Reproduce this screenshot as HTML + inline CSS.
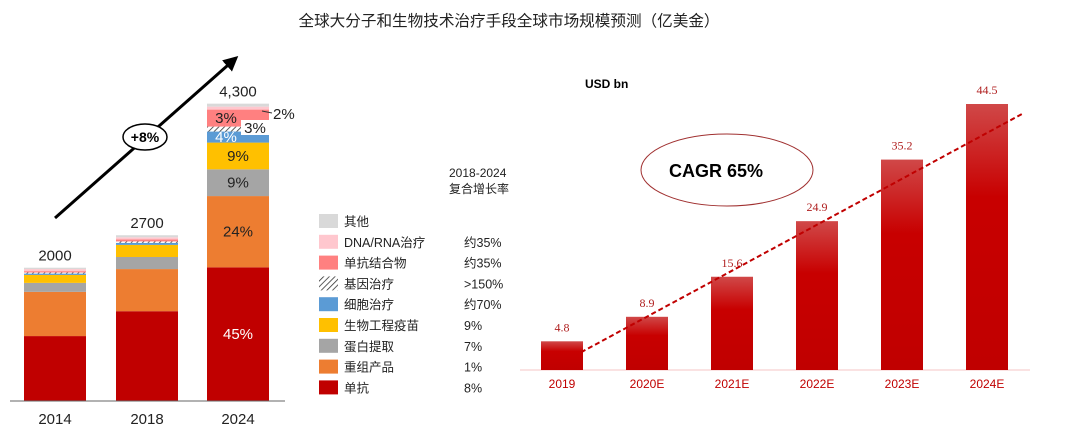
<!DOCTYPE html>
<html><head><meta charset="utf-8"><style>
body{margin:0;background:#fff;width:1080px;height:435px;overflow:hidden}
svg text{font-family:"Liberation Sans","Noto Sans CJK SC",sans-serif}
svg text.serif{font-family:"Liberation Serif",serif}
</style></head><body>
<svg width="1080" height="435" viewBox="0 0 1080 435" xmlns="http://www.w3.org/2000/svg">
<defs>
<pattern id="hatch" width="4" height="4" patternUnits="userSpaceOnUse" patternTransform="rotate(45)"><rect width="4" height="4" fill="#fff"/><line x1="0" y1="0" x2="0" y2="4" stroke="#333" stroke-width="1.6"/></pattern>
<linearGradient id="rg" x1="0" y1="0" x2="0" y2="1"><stop offset="0" stop-color="#d04848"/><stop offset="0.35" stop-color="#c80000"/><stop offset="1" stop-color="#c00000"/></linearGradient>
<marker id="ah" markerWidth="5" markerHeight="5" refX="4" refY="2.5" orient="auto"><path d="M0,0 L5,2.5 L0,5 z" fill="#000"/></marker>
</defs>
<text x="509" y="26" text-anchor="middle" font-size="15.6" fill="#222">全球大分子和生物技术治疗手段全球市场规模预测（亿美金）</text>
<g id="left"></g>
<g id="legend"></g>
<g id="right"></g>
</svg>
<script>
const NS="http://www.w3.org/2000/svg";
function mk(p,t,a){const e=document.createElementNS(NS,t);for(const k in a)e.setAttribute(k,a[k]);p.appendChild(e);return e;}
// Left stacked chart data
const leftYears=["2014","2018","2024"];
const leftTotals=["2000","2700","4,300"];
const segNames=["单抗","重组产品","蛋白提取","生物工程疫苗","细胞治疗","基因治疗","单抗结合物","DNA/RNA治疗","其他"];
const segColors=["#c00000","#ed7d31","#a5a5a5","#ffc000","#5b9bd5","url(#hatch)","#ff8080","#ffc7ce","#d9d9d9"];
const seg2014=[940,640,130,115,20,15,20,30,20];
const seg2018=[1300,610,175,175,30,20,30,30,30];
const seg2024=[1935,1032,387,387,160,72,246,43,43];
const seg2024Labels=["45%","24%","9%","9%","4%","","3%","",""];
const growth=["约35%","约35%",">150%","约70%","9%","7%","1%","8%"];
const L=document.getElementById('left');
const base=401,scale=297/4300,barX=[24,116,207],barW=62;
const leftY=v=>base-v*scale;
[seg2014,seg2018,seg2024].forEach((segs,i)=>{
  let acc=0;
  segs.forEach((v,j)=>{
    const r=mk(L,'rect',{x:barX[i],y:leftY(acc+v),width:barW,height:v*scale,fill:segColors[j]});
    
    
    if(i===2&&seg2024Labels[j]){
      const lx=(j===4||j===6)?barX[i]+19:barX[i]+31;
      const t=mk(L,'text',{x:lx,y:leftY(acc+v/2)+5,'text-anchor':'middle','font-size':15,fill:j===0||j===4?'#fff':'#222'});
      t.textContent=seg2024Labels[j];
      
      
    }
    acc+=v;
  });
  const tt=mk(L,'text',{x:barX[i]+31,y:leftY(acc)-7,'text-anchor':'middle','font-size':15,fill:'#222'});
  tt.textContent=leftTotals[i];
  
  
  const xl=mk(L,'text',{x:barX[i]+31,y:424,'text-anchor':'middle','font-size':15,fill:'#222'});
  xl.textContent=leftYears[i];
  
  
});
mk(L,'line',{x1:10,y1:401,x2:285,y2:401,stroke:'#666','stroke-width':1});
const sl=mk(L,'text',{x:273,y:119,'font-size':15,fill:'#222'});sl.textContent='2%';
mk(L,'line',{x1:262,y1:111,x2:272,y2:113,stroke:'#333'});
mk(L,'rect',{x:241,y:120,width:28,height:15,fill:'#fff'});
const hl=mk(L,'text',{x:255,y:133,'text-anchor':'middle','font-size':15,fill:'#222'});hl.textContent='3%';
mk(L,'line',{x1:55,y1:218,x2:236,y2:58,stroke:'#000','stroke-width':3,'marker-end':'url(#ah)'});
mk(L,'ellipse',{cx:145,cy:137,rx:22,ry:13,fill:'#fff',stroke:'#000','stroke-width':1.5});
const gp=mk(L,'text',{x:145,y:142,'text-anchor':'middle','font-size':14,'font-weight':'bold',fill:'#000'});gp.textContent='+8%';
// Legend
const G=document.getElementById('legend');
const h1=mk(G,'text',{x:449,y:177,'font-size':12,fill:'#222'});h1.textContent='2018-2024';
const h2=mk(G,'text',{x:449,y:193,'font-size':12,fill:'#222'});h2.textContent='复合增长率';
for(let k=0;k<9;k++){
  const j=8-k, cy=221+k*20.8;
  const sw=mk(G,'rect',{x:319,y:cy-7,width:19,height:14,fill:segColors[j]});
  
  
  const t=mk(G,'text',{x:344,y:cy+5,'font-size':12.5,fill:'#222'});t.textContent=segNames[j];
  
  
  if(k>0){const g=mk(G,'text',{x:464,y:cy+5,'font-size':12.5,fill:'#222'});g.textContent=growth[k-1];}
}
// Right chart data
const rCats=["2019","2020E","2021E","2022E","2023E","2024E"];
const rVals=[4.8,8.9,15.6,24.9,35.2,44.5];
const rLabels=["4.8","8.9","15.6","24.9","35.2","44.5"];
const R=document.getElementById('right');
const rBase=370,rScale=266/44.5,x0=562,step=85,bw=42;
const rx=i=>x0+i*step, ry=v=>rBase-v*rScale;
const us=mk(R,'text',{x:585,y:88,'font-size':12,'font-weight':'bold',fill:'#000'});us.textContent='USD bn';
mk(R,'line',{x1:520,y1:370,x2:1030,y2:370,stroke:'#f4c6c6','stroke-width':1});
rVals.forEach((v,i)=>{
  const r=mk(R,'rect',{x:rx(i)-bw/2,y:ry(v),width:bw,height:v*rScale,fill:'url(#rg)'});
  
  
  const t=mk(R,'text',{x:rx(i),y:ry(v)-10,'text-anchor':'middle','font-size':12,fill:'#b02020','class':'serif'});
  t.textContent=rLabels[i];
  
  
  const c=mk(R,'text',{x:rx(i),y:388,'text-anchor':'middle','font-size':12,fill:'#c00000'});
  c.textContent=rCats[i];
  
  
});
mk(R,'line',{x1:rx(0)+19,y1:ry(rVals[0])+11,x2:rx(5)+35,y2:ry(rVals[5])+10,stroke:'#c00000','stroke-width':2,'stroke-dasharray':'5,3'});
mk(R,'ellipse',{cx:727,cy:170,rx:86,ry:36,fill:'none',stroke:'#a03030','stroke-width':1});
const cg=mk(R,'text',{x:716,y:177,'text-anchor':'middle','font-size':18,'font-weight':'bold',fill:'#000'});cg.textContent='CAGR 65%';
</script>
</body></html>
